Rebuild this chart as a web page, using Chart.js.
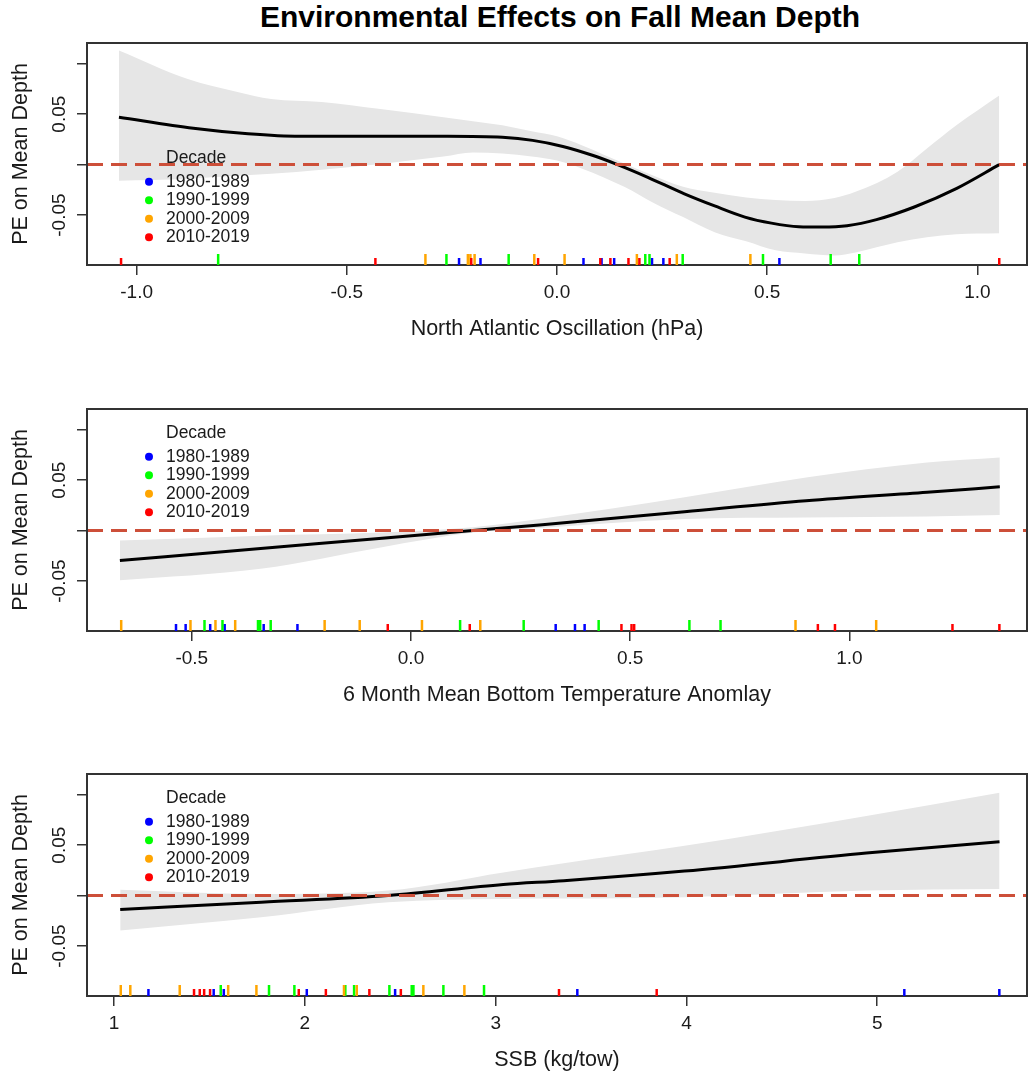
<!DOCTYPE html>
<html>
<head>
<meta charset="utf-8">
<script src="https://cdn.jsdelivr.net/npm/chart.js@4.4.0/dist/chart.umd.min.js"></script>
<style>
  html, body { margin: 0; padding: 0; background: #fff; width: 1028px; height: 1072px; overflow: hidden; }
  #title { position: absolute; left: 90px; width: 940px; top: 0px; text-align: center;
           font: bold 30px "Liberation Sans", Arial, sans-serif; color: #000; }
  canvas { position: absolute; left: 0; }
</style>
</head>
<body>
<div id="title">Environmental Effects on Fall Mean Depth</div>
<canvas id="naoChart" width="1028" height="355" style="top:0px"></canvas>
<canvas id="tempChart" width="1028" height="355" style="top:366px"></canvas>
<canvas id="ssbChart" width="1028" height="355" style="top:731px"></canvas>
<script>
const decades = ["1980-1989", "1990-1999", "2000-2009", "2010-2019"];
const decadeColors = ["#0000FF", "#00FF00", "#FFA500", "#FF0000"];
const rugLen = [7, 11, 11, 7];

// y axis, same for all three panels
const yMin = -0.0995, yMax = 0.1205;
const yTicks = [0.1, 0.05, 0, -0.05];
const yTickLabels = ["", "0.05", "", "-0.05"];
const yTitle = "PE on Mean Depth";

// panel 1 - NAO
const naoLabel = "North Atlantic Oscillation (hPa)";
const naoTicks = [-1, -0.5, 0, 0.5, 1];
const naoTickLabels = ["-1.0", "-0.5", "0.0", "0.5", "1.0"];
const naoX = [-1.042, -0.865, -0.735, -0.612, -0.26, -0.13, -0.058, 0.014, 0.086, 0.144, 0.216, 0.303, 0.375, 0.447, 0.51, 0.575, 0.63, 0.69, 0.76, 0.85, 0.951, 1.052];
const naoFit = [0.047, 0.036, 0.0305, 0.028, 0.028, 0.027, 0.024, 0.018, 0.009, 0, -0.0126, -0.029, -0.041, -0.052, -0.058, -0.0615, -0.0618, -0.0605, -0.0545, -0.042, -0.0235, 0];
const naoBandX = [-1.042, -0.88, -0.76, -0.68, -0.56, -0.42, -0.27, -0.2, -0.13, -0.06, 0.0, 0.06, 0.16, 0.23, 0.30, 0.375, 0.45, 0.52, 0.59, 0.66, 0.71, 0.81, 0.88, 0.95, 1.052];
const naoUpper = [0.113, 0.085, 0.072, 0.065, 0.062, 0.055, 0.047, 0.043, 0.039, 0.033, 0.028, 0.019, 0.001, -0.011, -0.022, -0.028, -0.0325, -0.035, -0.036, -0.033, -0.027, -0.007, 0.016, 0.039, 0.0685];
const naoLower = [-0.016, -0.014, -0.011, -0.009, -0.005, 0.0007, 0.008, 0.012, 0.011, 0.008, 0.004, -0.004, -0.022, -0.038, -0.052, -0.067, -0.076, -0.085, -0.088, -0.090, -0.087, -0.077, -0.072, -0.069, -0.068];
const naoRug80 = [-0.233, -0.182, 0.063, 0.106, 0.136, 0.226, 0.253, 0.529];
const naoRug90 = [-0.806, -0.263, -0.115, 0.210, 0.220, 0.299, 0.490, 0.651, 0.719];
const naoRug00 = [-0.313, -0.212, -0.206, -0.196, -0.054, 0.018, 0.190, 0.285, 0.460];
const naoRug10 = [-1.037, -0.432, -0.204, -0.045, 0.103, 0.127, 0.170, 0.196, 0.268, 1.052];

// panel 2 - bottom temperature
const tempLabel = "6 Month Mean Bottom Temperature Anomlay";
const tempTicks = [-0.5, 0, 0.5, 1];
const tempTickLabels = ["-0.5", "0.0", "0.5", "1.0"];
const tempX = [-0.664, -0.343, -0.066, 0.141, 0.293, 0.624, 0.901, 1.177, 1.343];
const tempFit = [-0.0296, -0.0178, -0.0076, 0.0, 0.0056, 0.0187, 0.0296, 0.038, 0.0434];
const tempUpper = [-0.0099, -0.005, -0.002, 0.0033, 0.0115, 0.033, 0.0526, 0.0674, 0.0724];
const tempLower = [-0.0493, -0.0378, -0.0164, -0.002, 0.0025, 0.0115, 0.013, 0.014, 0.0155];
const tempRug80 = [-0.536, -0.514, -0.458, -0.425, -0.336, -0.259, 0.330, 0.374, 0.396];
const tempRug90 = [-0.471, -0.430, -0.349, -0.344, -0.320, 0.112, 0.257, 0.428, 0.635, 0.706];
const tempRug00 = [-0.661, -0.503, -0.446, -0.401, -0.197, -0.117, 0.025, 0.158, 0.877, 1.061];
const tempRug10 = [-0.053, 0.134, 0.480, 0.503, 0.509, 0.928, 0.967, 1.235, 1.342];

// panel 3 - SSB
const ssbLabel = "SSB (kg/tow)";
const ssbTicks = [1, 2, 3, 4, 5];
const ssbTickLabels = ["1", "2", "3", "4", "5"];
const ssbX = [1.032, 1.771, 2.437, 3.04, 3.357, 3.99, 4.943, 5.641];
const ssbFit = [-0.0138, -0.0066, 0.0, 0.011, 0.0148, 0.0243, 0.0421, 0.0533];
const ssbUpper = [0.0059, 0.0016, 0.005, 0.023, 0.032, 0.0493, 0.079, 0.102];
const ssbLower = [-0.0345, -0.0214, -0.0066, -0.0033, -0.003, -0.0016, 0.005, 0.0066];
const ssbRug80 = [1.180, 1.522, 1.575, 2.010, 2.473, 3.428, 5.142, 5.640];
const ssbRug90 = [1.559, 1.812, 1.945, 2.212, 2.258, 2.443, 2.560, 2.569, 2.726, 2.939];
const ssbRug00 = [1.035, 1.085, 1.344, 1.598, 1.746, 2.205, 2.272, 2.621, 2.836];
const ssbRug10 = [1.419, 1.449, 1.472, 1.503, 1.968, 2.110, 2.338, 2.503, 3.332, 3.844];

const FONT = '"Liberation Sans", Arial, sans-serif';
const TEXT = "#1a1a1a";
Chart.defaults.font.family = FONT;

function pts(xs, ys) {
  return xs.map((x, i) => ({ x: x, y: ys[i] }));
}

// box, rug, rotated y labels and decade legend
const panelExtras = {
  id: "panelExtras",
  afterDatasetsDraw(chart, args, opts) {
    const ctx = chart.ctx;
    const a = chart.chartArea;
    const xs = chart.scales.x;
    ctx.save();
    ctx.strokeStyle = "#333";
    ctx.lineWidth = 2;
    ctx.strokeRect(a.left, a.top, a.right - a.left, a.bottom - a.top);
    opts.rugs.forEach((arr, k) => {
      ctx.strokeStyle = decadeColors[k];
      ctx.lineWidth = 2.5;
      arr.forEach(v => {
        const px = xs.getPixelForValue(v);
        ctx.beginPath();
        ctx.moveTo(px, a.bottom);
        ctx.lineTo(px, a.bottom - rugLen[k]);
        ctx.stroke();
      });
    });
    ctx.restore();
  },
  afterDraw(chart, args, opts) {
    const ctx = chart.ctx;
    const a = chart.chartArea;
    const ys = chart.scales.y;
    ctx.save();
    ctx.fillStyle = TEXT;
    ctx.font = "19px " + FONT;
    ctx.textAlign = "center";
    ctx.textBaseline = "alphabetic";
    yTicks.forEach((v, i) => {
      if (!yTickLabels[i]) return;
      ctx.save();
      ctx.translate(65, ys.getPixelForValue(v));
      ctx.rotate(-Math.PI / 2);
      ctx.fillText(yTickLabels[i], 0, 0);
      ctx.restore();
    });

    // legend
    const top = a.top + opts.legendTop;
    ctx.font = "17.5px " + FONT;
    ctx.textAlign = "left";
    ctx.textBaseline = "middle";
    ctx.fillText("Decade", 166, top);
    decades.forEach((d, k) => {
      const yy = top + 23.8 + 18.5 * k;
      ctx.fillStyle = decadeColors[k];
      ctx.beginPath();
      ctx.arc(149, yy, 4, 0, Math.PI * 2);
      ctx.fill();
      ctx.fillStyle = TEXT;
      ctx.fillText(d, 166, yy);
    });
    ctx.restore();
  }
};

function makePanel(id, p) {
  const tickGrid = { display: true, drawOnChartArea: false, drawTicks: true, tickLength: 10, color: "#333", lineWidth: 1.5 };
  return new Chart(document.getElementById(id), {
    type: "line",
    data: {
      datasets: [
        { data: [{ x: p.xMin, y: 0 }, { x: p.xMax, y: 0 }], borderColor: "#CD4F39", borderWidth: 3,
          borderDash: [16, 8], pointRadius: 0, fill: false, order: 0 },
        { data: pts(p.x, p.fit), borderColor: "#000", borderWidth: 3, pointRadius: 0, fill: false,
          cubicInterpolationMode: "monotone", order: 1 },
        { data: pts(p.bandX, p.upper), borderColor: "rgba(0,0,0,0)", borderWidth: 0, backgroundColor: "#E6E6E6",
          fill: "+1", pointRadius: 0, cubicInterpolationMode: "monotone", order: 2 },
        { data: pts(p.bandX, p.lower), borderColor: "rgba(0,0,0,0)", borderWidth: 0, fill: false,
          pointRadius: 0, cubicInterpolationMode: "monotone", order: 2 }
      ]
    },
    options: {
      responsive: false,
      animation: false,
      devicePixelRatio: 1,
      layout: { padding: { top: 43, right: 1, left: 0, bottom: 0 } },
      plugins: {
        legend: { display: false },
        tooltip: { enabled: false },
        panelExtras: { rugs: p.rugs, legendTop: p.legendTop }
      },
      scales: {
        x: {
          type: "linear", min: p.xMin, max: p.xMax,
          afterBuildTicks: s => { s.ticks = p.ticks.map(v => ({ value: v })); },
          afterFit: s => { s.height = 90; },
          ticks: { callback: v => p.tickLabels[p.ticks.indexOf(v)], autoSkip: false, maxRotation: 0,
                   padding: 6, color: TEXT, font: { size: 19 } },
          grid: tickGrid,
          border: { display: false },
          title: { display: true, text: p.label, color: TEXT, font: { size: 21.5 }, padding: { top: 0, bottom: 13 } }
        },
        y: {
          type: "linear", min: yMin, max: yMax,
          afterBuildTicks: s => { s.ticks = yTicks.map(v => ({ value: v })); },
          afterFit: s => { s.width = 87; },
          ticks: { callback: () => "", font: { size: 19 } },
          grid: tickGrid,
          border: { display: false },
          title: { display: true, text: yTitle, color: TEXT, font: { size: 21.5 }, padding: { top: 8, bottom: 0 } }
        }
      }
    },
    plugins: [panelExtras]
  });
}

makePanel("naoChart", {
  label: naoLabel, ticks: naoTicks, tickLabels: naoTickLabels, xMin: -1.118, xMax: 1.118,
  x: naoX, fit: naoFit, bandX: naoBandX, upper: naoUpper, lower: naoLower,
  rugs: [naoRug80, naoRug90, naoRug00, naoRug10], legendTop: 115
});
makePanel("tempChart", {
  label: tempLabel, ticks: tempTicks, tickLabels: tempTickLabels, xMin: -0.739, xMax: 1.405,
  x: tempX, fit: tempFit, bandX: tempX, upper: tempUpper, lower: tempLower,
  rugs: [tempRug80, tempRug90, tempRug00, tempRug10], legendTop: 24
});
makePanel("ssbChart", {
  label: ssbLabel, ticks: ssbTicks, tickLabels: ssbTickLabels, xMin: 0.858, xMax: 5.785,
  x: ssbX, fit: ssbFit, bandX: ssbX, upper: ssbUpper, lower: ssbLower,
  rugs: [ssbRug80, ssbRug90, ssbRug00, ssbRug10], legendTop: 24
});
</script>
</body>
</html>
